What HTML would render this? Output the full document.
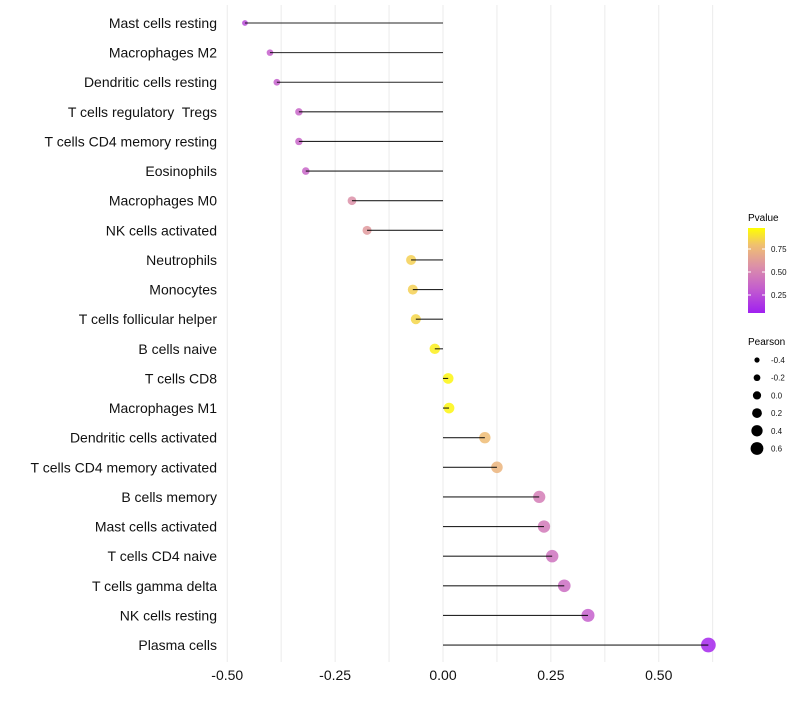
<!DOCTYPE html>
<html><head><meta charset="utf-8"><style>
body{margin:0;background:#fff;font-family:"Liberation Sans",sans-serif}
svg text{font-family:"Liberation Sans",sans-serif;white-space:pre}
</style></head><body>
<svg id="chart" width="800" height="700">
<defs><linearGradient id="pg" x1="0" y1="1" x2="0" y2="0">
<stop offset="0" stop-color="#a020f0"/><stop offset="0.3" stop-color="#c560cc"/><stop offset="0.55" stop-color="#dc90a8"/><stop offset="0.8" stop-color="#f0c070"/><stop offset="1" stop-color="#ffff00"/></linearGradient></defs>
<g id="grid"></g><g id="marks"></g><g id="ylabels"></g><g id="xlabels"></g>
<g>
<text x="748" y="221" font-size="10">Pvalue</text>
<rect x="748" y="228" width="17" height="85" fill="url(#pg)"/>
<g id="cbticks"></g>
</g>
<g id="sizeleg">
<text x="748" y="345" font-size="10">Pearson</text>
</g>
</svg>
<script>
const categories=["Mast cells resting","Macrophages M2","Dendritic cells resting","T cells regulatory  Tregs","T cells CD4 memory resting","Eosinophils","Macrophages M0","NK cells activated","Neutrophils","Monocytes","T cells follicular helper","B cells naive","T cells CD8","Macrophages M1","Dendritic cells activated","T cells CD4 memory activated","B cells memory","Mast cells activated","T cells CD4 naive","T cells gamma delta","NK cells resting","Plasma cells"];
const pearson=[-0.459,-0.401,-0.385,-0.334,-0.334,-0.318,-0.211,-0.176,-0.074,-0.070,-0.063,-0.019,0.012,0.014,0.097,0.125,0.223,0.234,0.253,0.281,0.336,0.615];
const pvalue=[0.2,0.3,0.3,0.33,0.33,0.33,0.55,0.6,0.85,0.85,0.87,0.95,0.97,0.97,0.78,0.74,0.45,0.43,0.4,0.37,0.3,0.03];
const xTicks=[-0.5,-0.25,0,0.25,0.5];
const xTickLabels=["-0.50","-0.25","0.00","0.25","0.50"];
const cbTicks=[0.25,0.5,0.75];
const cbLabels=["0.25","0.50","0.75"];
const sizeLegend=[-0.4,-0.2,0.0,0.2,0.4,0.6];
const sizeLabels=["-0.4","-0.2","0.0","0.2","0.4","0.6"];

const NS="http://www.w3.org/2000/svg";
const X=v=>443+v*431.5;
const Y=i=>23+i*29.62;
const R=v=>Math.sqrt(Math.max(1,28+42.8*v));
const cbY=p=>295-(p-0.25)*92;
const stops=[[0,[160,32,240]],[0.3,[197,96,204]],[0.55,[220,144,168]],[0.8,[240,192,112]],[1,[255,255,0]]];
function col(p){p=Math.max(0,Math.min(1,p));for(let i=1;i<stops.length;i++){if(p<=stops[i][0]){const a=stops[i-1],b=stops[i],t=(p-a[0])/(b[0]-a[0]);return `rgb(${a[1].map((c,k)=>Math.round(c+(b[1][k]-c)*t)).join(',')})`;}}return "rgb(255,255,0)";}
function mk(tag,attrs,parent){const e=document.createElementNS(NS,tag);for(const k in attrs)e.setAttribute(k,attrs[k]);parent.appendChild(e);return e;}
const grid=document.getElementById('grid'),marks=document.getElementById('marks'),yl=document.getElementById('ylabels'),xl=document.getElementById('xlabels');
for(let v=-0.5;v<=0.626;v+=0.125){const l=mk('line',{x1:X(v),x2:X(v),y1:5,y2:662,stroke:'#ebebeb','stroke-width':1},grid);

}
xTicks.forEach((v,i)=>{const t=mk('text',{x:X(v),y:680,'text-anchor':'middle','font-size':14,fill:'#111'},xl);t.textContent=xTickLabels[i];

});
categories.forEach((c,i)=>{
const t=mk('text',{x:217,y:Y(i)+5,'text-anchor':'end','font-size':14,fill:'#111'},yl);t.textContent=c;


const d=mk('circle',{cx:X(pearson[i]),cy:Y(i),r:R(pearson[i]),fill:col(pvalue[i]),'fill-opacity':0.85},marks);


const s=mk('line',{x1:X(0),x2:X(pearson[i]),y1:Y(i),y2:Y(i),stroke:'#000','stroke-width':1.1,'stroke-opacity':0.85},marks);


});
const cb=document.getElementById('cbticks');
cbTicks.forEach((p,i)=>{mk('line',{x1:748,x2:751,y1:cbY(p),y2:cbY(p),stroke:'#fff'},cb);mk('line',{x1:762,x2:765,y1:cbY(p),y2:cbY(p),stroke:'#fff'},cb);
const t=mk('text',{x:771,y:cbY(p)+3,'font-size':8,fill:'#111'},cb);t.textContent=cbLabels[i];

});
const sl=document.getElementById('sizeleg');
const LR=v=>2.6+(v+0.4)*3.8;
sizeLegend.forEach((v,i)=>{const y=360+i*17.7;
const c=mk('circle',{cx:757,cy:y,r:LR(v),fill:'#000'},sl);


const t=mk('text',{x:771,y:y+3,'font-size':8,fill:'#111'},sl);t.textContent=sizeLabels[i];

});
</script>
</body></html>
